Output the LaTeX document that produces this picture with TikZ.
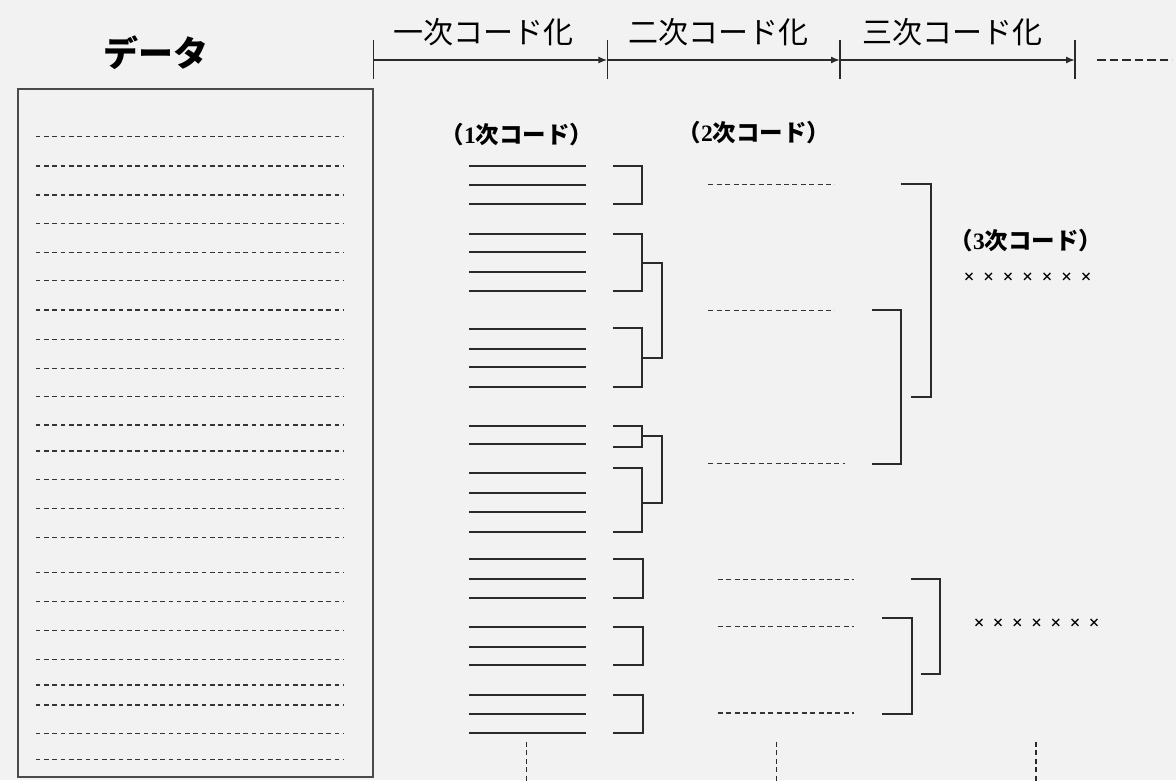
\documentclass[tikz,border=0pt]{standalone}
\usepackage{fontspec}
\newfontfamily\jp{Noto Sans CJK JP}
\newfontfamily\numfont{Liberation Serif}
\usetikzlibrary{arrows.meta}
\definecolor{bg}{HTML}{F2F2F2}
\definecolor{ink}{HTML}{2A2A2A}
\definecolor{dashink}{HTML}{353535}
\tikzset{
  frame/.style={draw=ink!85, line width=1.8pt},
  axis/.style={draw=ink, line width=1.5pt},
  tick/.style={draw=ink, line width=1.5pt},
  codeline/.style={draw=ink, line width=1.8pt},
  dataline/.style={draw=dashink, line width=1.5pt, dash pattern=on 4.6pt off 3.7pt},
  subline/.style={draw=dashink, line width=1.4pt, dash pattern=on 5pt off 3.4pt},
  guide/.style={draw=ink, line width=1.3pt, dash pattern=on 5pt off 3.5pt},
  bracket/.style={draw=ink, line width=1.8pt},
  header/.style={font=\jp\fontsize{30}{32}\selectfont, inner sep=0pt},
  title/.style={font=\jp\bfseries\fontsize{35}{38}\selectfont, inner sep=0pt},
  codelabel/.style={font=\jp\bfseries\fontsize{23.5}{26}\selectfont, inner sep=0pt},
  cross/.style={font=\jp\bfseries\fontsize{12}{12}\selectfont, inner sep=0pt},
}
\begin{document}
\begin{tikzpicture}[x=1pt, y=-1pt]
  % canvas
  \fill[bg] (0,0) rectangle (1176,780);
  \useasboundingbox (0,0) rectangle (1176,780);

  % ---- title and data sheet ----
  \node[title] (data) at (155.5,53) {データ};
  \draw[frame] (18.3,89.3) rectangle (372.7,777);
  \foreach \y in {136.7,166,195,223.3,252.3,280.5,310,339.3,368.3,396.7,425,451,479.3,508.3,537.3,572.7,601.7,630.7,659.3,685,705,733.3,759.3}
    \draw[dataline] (35.7,\y) -- (343,\y);

  % ---- phase timeline ----
  \coordinate (t1) at (373.3,60);
  \coordinate (t2) at (607.3,60);
  \coordinate (t3) at (840,60);
  \coordinate (t4) at (1075,60);
  \foreach \t in {t1,t2,t3,t4}
    \draw[tick] ([yshift=-19pt]\t) -- ([yshift=20pt]\t);
  \draw[axis, -{Latex[length=9pt,width=7pt]}] (t1) -- (t2);
  \draw[axis, -{Latex[length=9pt,width=7pt]}] (t2) -- (t3);
  \draw[axis, -{Latex[length=9pt,width=7pt]}] (t3) -- (t4);
  \coordinate (more) at (1097,60);
  \coordinate (moreend) at (1172,60);
  \draw[axis, dash pattern=on 8.5pt off 4pt] (more) -- (moreend);

  \node[header] (h1) at (483,32) {一次コード化};
  \node[header] (h2) at (718,32) {二次コード化};
  \node[header] (h3) at (952,32) {三次コード化};

  % ---- first-order codes ----
  \node[codelabel] (c1) at (517,135) {（{\numfont 1}次コード）};
  \foreach \y in {166,184.7,204.3, 233.7,252,272,290.7, 329,348.7,367.3,387,
                  425.7,444, 473,493,511.7,531.7, 559.3,579.3,597.7,
                  627,646.7,665.3, 694.7,714.3,732.7}
    \draw[codeline] (469,\y) -- (585.7,\y);

  % brackets grouping first-order codes
  \foreach \a/\b in {166/204.3, 233.7/290.7, 327.7/387, 425.7/446.7, 467.7/531.7}
    \draw[bracket] (613.3,\a) -| (641.7,\b) -- (613.3,\b);
  \foreach \a/\b in {559.3/597.7, 627/665.3, 694.7/732.7}
    \draw[bracket] (613.3,\a) -| (643.3,\b) -- (613.3,\b);
  % second-level joins
  \draw[bracket] (641.7,262.7) -| (661.7,358) -- (641.7,358);
  \draw[bracket] (641.7,436) -| (661.7,502.7) -- (641.7,502.7);

  % ---- second-order codes ----
  \node[codelabel] (c2) at (754,133) {（{\numfont 2}次コード）};
  \draw[subline] (708.3,184.3) -- (834.3,184.3);
  \draw[subline] (708.3,310.3) -- (834.3,310.3);
  \draw[subline] (708.3,463.7) -- (845,463.7);
  \draw[subline] (717.7,579.3) -- (854.3,579.3);
  \draw[subline] (717.7,626.7) -- (854.3,626.7);
  \draw[subline] (717.7,713) -- (854.3,713);

  % brackets grouping second-order codes
  \draw[bracket] (900.7,184.3) -| (930.7,396.7) -- (911.3,396.7);
  \draw[bracket] (871.7,310.3) -| (901.3,464) -- (871.7,464);
  \draw[bracket] (911.3,579.3) -| (940,674.3) -- (920.7,674.3);
  \draw[bracket] (882.3,617.7) -| (912.3,714) -- (882.3,714);

  % ---- third-order codes ----
  \node[codelabel] (c3) at (1026,241) {（{\numfont 3}次コード）};
  \foreach \i in {0,...,6}
    \node[cross] (xa\i) at (969+19.5*\i,277) {×};
  \foreach \i in {0,...,6}
    \node[cross] (xb\i) at (979+19.2*\i,622.7) {×};

  % ---- continuation guides ----
  \coordinate (g1) at (526.7,741.7);
  \coordinate (g2) at (776.7,741.7);
  \coordinate (g3) at (1036,741.7);
  \foreach \g in {g1,g2,g3}
    \draw[guide] (\g) -- ++(0,40);
\end{tikzpicture}
\end{document}
